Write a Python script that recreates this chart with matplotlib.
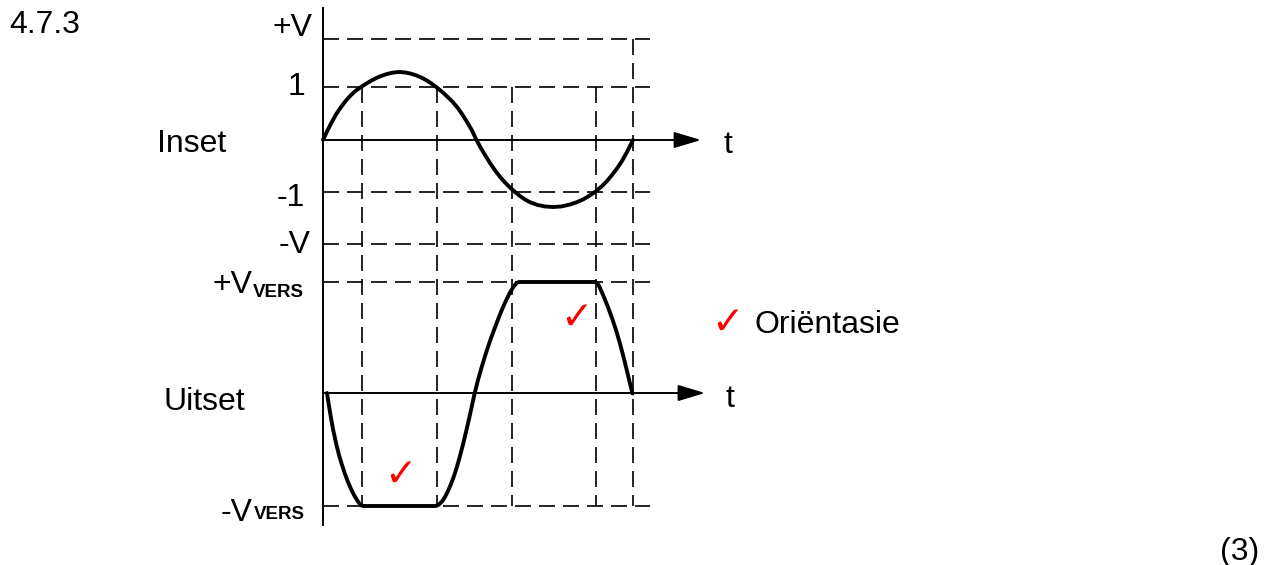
import matplotlib
matplotlib.use("Agg")
import matplotlib.pyplot as plt

plt.rcParams['font.family'] = ['Liberation Sans', 'DejaVu Sans']

# drawing is laid out in picture units (x to the right, y downwards)
t_start, t_end, t_arrow = 323, 650, 701
axis_top, axis_bottom = 8, 525
in_axis_y = 140
out_axis_y = 393

# input levels
in_labels = ['+V', '1', '-1', '-V']
in_levels = [39, 87, 192, 244]
# output (saturation) levels
out_labels = ['+V', '-V']
out_levels = [282, 506]

# vertical guide lines (where input crosses +/-1, and end of period)
guide_x = [362, 437, 512, 596, 633]
guide_top = [87, 87, 87, 87, 39]
guide_bottom = 506

# input signal
in_x = [323, 327, 331, 336, 341, 346, 351, 356, 361, 366, 371, 376, 381, 386, 391, 396, 400,
        406, 411, 416, 421, 426, 431, 437, 443, 448, 453, 458, 463, 468, 472, 476.5,
        480, 485, 490, 495, 500, 505, 510, 515, 520, 525, 530, 537, 545, 553,
        561, 570, 576, 583, 589, 595, 601, 607, 612, 617, 622, 627, 633]
in_y = [140, 131.5, 123.5, 114.5, 107, 100.5, 95, 90.5, 87, 83.8, 80.8, 78.2, 76, 74.3, 73, 72.2, 72,
        72.6, 73.7, 75.3, 77.4, 80, 83.2, 87.6, 92.6, 97.3, 102.3, 108.3, 115.5, 123.5, 130.5, 140,
        146.5, 155, 163, 170.3, 176.8, 182.5, 187.5, 192, 196, 199.5, 202.2, 204.8, 206.5, 207,
        206.5, 204.5, 202.5, 199.5, 196, 192, 187, 181, 175, 168.5, 161, 152, 140]

# output signal (inverted and clipped)
out_x = [327, 329, 331, 333, 336, 339, 342, 345, 348, 351, 354, 357, 359, 361, 363,
         436, 439, 442, 445, 448, 451, 454, 457, 460, 463, 466, 469, 472, 474.5,
         478, 482, 486, 490, 494, 498, 502, 506, 510, 514, 517, 519,
         595, 597, 598.5, 600, 604, 608, 612, 616, 620, 624, 628, 632.5]
out_y = [393, 406, 418, 429, 443, 455, 465, 474, 482, 489, 495, 500, 503, 505.3, 506,
         506, 504.5, 501.5, 497, 491, 484, 476, 466.5, 456, 444.5, 432, 419, 405.5, 394,
         380, 366, 353, 341, 330, 319.5, 309.5, 300.5, 292.5, 286, 282.7, 282,
         282, 283, 285, 288, 297.2, 307.2, 318, 330, 343.6, 358.8, 375.2, 393.5]

# check marks
check_x = [400, 576, 727]
check_y = [475, 318, 323]

fig = plt.figure(figsize=(12.75, 5.65), dpi=100)
ax = fig.add_axes([0, 0, 1, 1])
ax.set_xlim(0, 1275)
ax.set_ylim(565, 0)
ax.axis('off')

dash = dict(color='black', lw=1.2, linestyle=(0, (9.6, 4.8)))
for y in in_levels + out_levels:
    ax.plot([t_start, t_end], [y, y], **dash)
for x, top in zip(guide_x, guide_top):
    ax.plot([x, x], [top, guide_bottom], **dash)

# axes
ax.plot([t_start, t_start], [axis_top, axis_bottom], color='black', lw=1.4)
for y, tip in [(in_axis_y, t_arrow), (out_axis_y, t_arrow + 4)]:
    ax.annotate('', xy=(tip, y), xytext=(t_start, y),
                arrowprops=dict(arrowstyle='-|>,head_length=1.66,head_width=0.5',
                                mutation_scale=10, lw=1.4, color='black',
                                shrinkA=0, shrinkB=0))

# signals
ax.plot(in_x, in_y, color='black', lw=2.8, solid_joinstyle='round', solid_capstyle='round')
ax.plot(out_x, out_y, color='black', lw=2.8, solid_joinstyle='round', solid_capstyle='round')

# labels
fs = 23
ax.text(9, 33, '4.7.3', fontsize=fs, va='baseline')
ax.text(312, 36, in_labels[0], fontsize=fs, ha='right', va='baseline')
ax.text(305, 95, in_labels[1], fontsize=fs, ha='right', va='baseline')
ax.text(305, 206, in_labels[2], fontsize=fs, ha='right', va='baseline')
ax.text(311, 253, in_labels[3], fontsize=fs, ha='right', va='baseline')
ax.text(157, 152, 'Inset', fontsize=fs, va='baseline')
ax.text(163, 410, 'Uitset', fontsize=fs, va='baseline')
ax.text(723, 153, 't', fontsize=fs, va='baseline')
ax.text(725, 407, 't', fontsize=fs, va='baseline')

ax.text(252, 293, out_labels[0], fontsize=fs, ha='right', va='baseline')
ax.text(253, 297, 'VERS', fontsize=13.5, fontweight='bold', ha='left', va='baseline')
ax.text(253, 521, out_labels[1], fontsize=fs, ha='right', va='baseline')
ax.text(254, 519, 'VERS', fontsize=13.5, fontweight='bold', ha='left', va='baseline')

for x, y in zip(check_x, check_y):
    ax.text(x, y, '\u2713', fontsize=28, color='red', ha='center', va='center',
            family='DejaVu Sans', fontweight='bold')
ax.text(755, 333, 'Oriëntasie', fontsize=fs, va='baseline')
ax.text(1220, 560, '(3)', fontsize=fs, va='baseline')

fig.savefig('out.png', dpi=100)
